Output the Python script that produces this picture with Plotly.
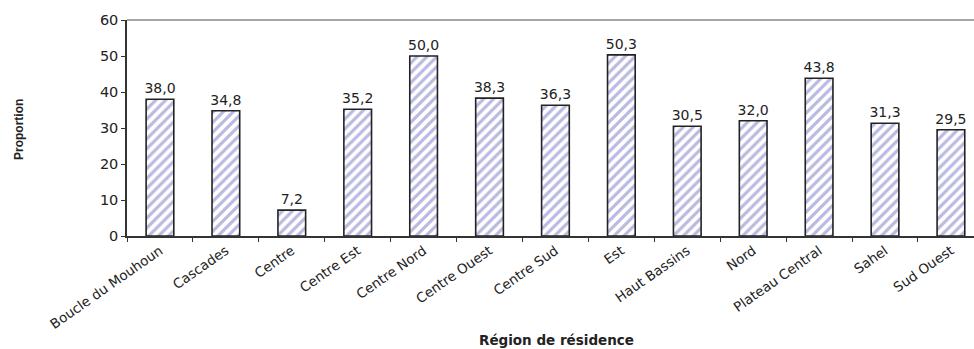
import plotly.graph_objects as go

regions = ["Boucle du Mouhoun", "Cascades", "Centre", "Centre Est", "Centre Nord",
           "Centre Ouest", "Centre Sud", "Est", "Haut Bassins", "Nord",
           "Plateau Central", "Sahel", "Sud Ouest"]
values = [38.0, 34.8, 7.2, 35.2, 50.0, 38.3, 36.3, 50.3, 30.5, 32.0, 43.8, 31.3, 29.5]
labels = [f"{v:.1f}".replace(".", ",") for v in values]

WIDE = "DejaVu Sans, Verdana, sans-serif"
ARIAL = "Liberation Sans, Arial, sans-serif"
TXT = "#222"

fig = go.Figure(go.Bar(
    x=regions, y=values, width=0.42,
    text=labels, textposition="outside", cliponaxis=False, constraintext="none",
    textfont=dict(family=WIDE, size=14, color=TXT),
    marker=dict(color="white",
                line=dict(color="#222", width=1.6),
                pattern=dict(shape="/", fgcolor="#7474c4", bgcolor="white",
                             size=7, solidity=0.45)),
))

fig.update_layout(
    width=974, height=349,
    margin=dict(l=127, r=0, t=20, b=113),
    paper_bgcolor="white", plot_bgcolor="white",
    showlegend=False,
    font=dict(family=ARIAL, color=TXT),
    shapes=[dict(type="line", xref="paper", yref="paper", x0=0, x1=1, y0=1, y1=1,
                 line=dict(color="#888", width=1.5))],
    annotations=[
        dict(text="<b>Région de résidence</b>", xref="paper", yref="paper",
             x=(556 - 127) / (974 - 127), y=-104 / 216, xanchor="center", yanchor="middle",
             showarrow=False, font=dict(family=WIDE, size=13.5, color=TXT)),
        dict(text="<b>Proportion</b>", xref="paper", yref="paper",
             x=(19 - 127) / (974 - 127), y=(236 - 130) / 216, xanchor="center", yanchor="middle",
             textangle=-90, showarrow=False, font=dict(family=ARIAL, size=12, color=TXT)),
    ],
)
fig.update_xaxes(
    range=[-0.5, 12.35], showline=True, linecolor="#333", linewidth=1.5,
    ticks="outside", ticklen=4, tickcolor="#333", tickson="boundaries",
    tickangle=-35, tickfont=dict(size=13.5, family=WIDE, color=TXT),
    showgrid=False,
)
fig.update_yaxes(
    range=[0, 60], dtick=10, showline=True, linecolor="#333", linewidth=1.5,
    ticks="outside", ticklen=4, tickcolor="#333",
    tickfont=dict(size=14.5, family=WIDE, color=TXT),
    showgrid=False, zeroline=False,
)

fig.write_html("out.html")
